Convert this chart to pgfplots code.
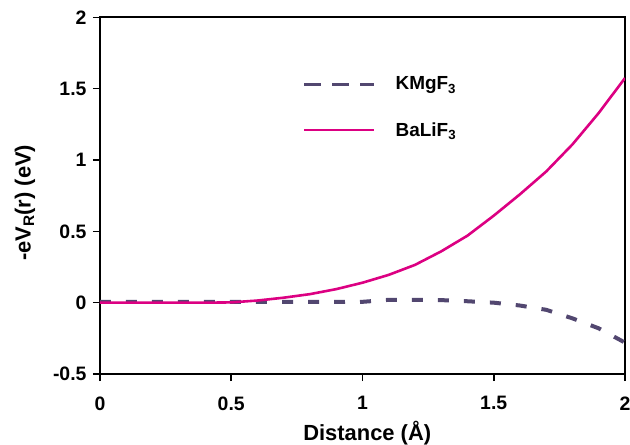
\documentclass[border=0pt]{standalone}
\usepackage{fontspec}
\setmainfont{Liberation Sans}
\usepackage{pgfplots}
\pgfplotsset{compat=1.18}

\definecolor{balif}{HTML}{DC0082}
\definecolor{kmgf}{HTML}{524770}

\pgfplotsset{kmglegend/.style={legend image code/.code={\draw[##1, line width=3bp, dash pattern=on 17bp off 11bp] (0bp,0bp) -- (70bp,0bp);}}}

\begin{document}
\begin{tikzpicture}
\begin{axis}[
    name=ax,
    scale only axis,
    width=525bp,
    height=356.6bp,
    xmin=0, xmax=2,
    ymin=-0.5, ymax=2,
    xtick={0,0.5,1,1.5,2},
    ytick={-0.5,0,0.5,1,1.5,2},
    tick align=outside,
    xtick pos=bottom,
    ytick pos=left,
    major tick length=7bp,
    axis line style={line width=1.8bp},
    every tick/.style={black, line width=1.5bp},
    /pgf/number format/assume math mode=true,
    ticklabel style={font=\fontsize{19.5}{21}\selectfont\bfseries},
    xticklabel style={yshift=-12bp},
    yticklabel style={xshift=-3bp},
    xlabel={Distance (Å)},
    ylabel={-eV\textsubscript{R}(r) (eV)},
    label style={font=\fontsize{22}{24}\selectfont\bfseries},
    xlabel style={at={(axis description cs:0.509,-0.165)}, anchor=center},
    ylabel style={at={(axis description cs:-0.143,0.48)}, anchor=center},
    legend style={draw=none, fill=none, at={(axis description cs:0.38,0.845)}, anchor=north west,
        font=\fontsize{19}{21}\selectfont\bfseries, row sep=27bp,
        /tikz/every odd column/.append style={column sep=18bp}},
    legend cell align=left,
    legend image code/.code={\draw[#1] (0bp,0bp) -- (70bp,0bp);},
]
\addplot[color=kmgf, line width=4bp, dash pattern=on 11bp off 15bp, kmglegend] coordinates {
(0,0.005) (0.1,0.005) (0.2,0.005) (0.3,0.005) (0.4,0.005) (0.5,0.005)
(0.6,0.005) (0.7,0.005) (0.8,0.005) (0.9,0.005) (1.0,0.006) (1.1,0.02)
(1.2,0.02) (1.3,0.018) (1.4,0.01) (1.5,0.0) (1.6,-0.02) (1.7,-0.05)
(1.8,-0.11) (1.9,-0.18) (2.0,-0.28)};
\addlegendentry{KMgF\textsubscript{3}}
\addplot[color=balif, line width=2.6bp] coordinates {
(0,0) (0.1,0) (0.2,0) (0.3,0) (0.4,0) (0.5,0.002) (0.6,0.015)
(0.7,0.035) (0.8,0.06) (0.9,0.095) (1.0,0.14) (1.1,0.195) (1.2,0.265)
(1.3,0.36) (1.4,0.47) (1.5,0.61) (1.6,0.76) (1.7,0.92) (1.8,1.11)
(1.9,1.33) (2.0,1.575)};
\addlegendentry{BaLiF\textsubscript{3}}
\end{axis}
\pgfresetboundingbox
\useasboundingbox (-100bp,-71bp) rectangle (530bp,374bp);
\end{tikzpicture}
\end{document}
